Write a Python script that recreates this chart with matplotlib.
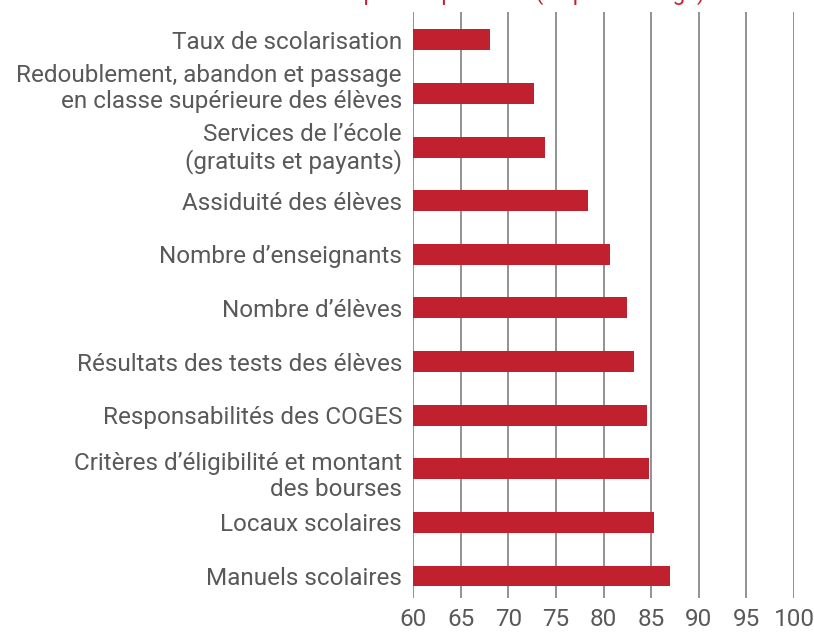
import matplotlib.pyplot as plt
from matplotlib.transforms import ScaledTranslation

# categories, top to bottom
categories = [
    "Taux de scolarisation",
    "Redoublement, abandon et passage\nen classe supérieure des élèves",
    "Services de l’école\n(gratuits et payants)",
    "Assiduité des élèves",
    "Nombre d’enseignants",
    "Nombre d’élèves",
    "Résultats des tests des élèves",
    "Responsabilités des COGES",
    "Critères d’éligibilité et montant\ndes bourses",
    "Locaux scolaires",
    "Manuels scolaires",
]
values = [68.1, 72.7, 73.9, 78.4, 80.7, 82.5, 83.2, 84.6, 84.8, 85.3, 87.0]
xticks = [60, 65, 70, 75, 80, 85, 90, 95, 100]
title = "Réponses positives (en pourcentage)"

plt.rcParams['font.family'] = ['Roboto', 'DejaVu Sans']

fig = plt.figure(figsize=(8.14, 6.34), dpi=100)
ax = fig.add_axes([413 / 814, 1 - 598 / 634, (794 - 413) / 814, (598 - 12) / 634])

pos = list(range(len(categories)))
ax.barh(pos, [v - 60 for v in values], left=60, height=0.39, color='#C1202F', zorder=3)

ax.set_xlim(60, 100)
ax.set_ylim(10.41, -0.52)
ax.set_xticks(xticks)
ax.set_xticklabels([str(t) for t in xticks], fontsize=17.5, color='#595959')
ax.set_yticks(pos)
ax.set_yticklabels(categories, fontsize=17.5, color='#595959', linespacing=1.15)
ax.tick_params(axis='both', length=0)
ax.tick_params(axis='x', pad=7)
ax.tick_params(axis='y', pad=8)

# two-line labels are not quite centred on their bars in the original
label_shift = {1: 0.09, 2: 0.03, 8: -0.04}
for i, lab in enumerate(ax.get_yticklabels()):
    if i in label_shift:
        lab.set_transform(lab.get_transform()
                          + ScaledTranslation(0, label_shift[i], fig.dpi_scale_trans))

ax.grid(axis='x', color='#7f7f7f', linewidth=1.2, zorder=0)
for s in ax.spines.values():
    s.set_visible(False)

# title sits above the visible area, only descenders show
fig.text(0.64, 1.0, title, color='#C1202F', fontsize=16,
         ha='center', va='baseline')

fig.savefig('out.png', dpi=100)
